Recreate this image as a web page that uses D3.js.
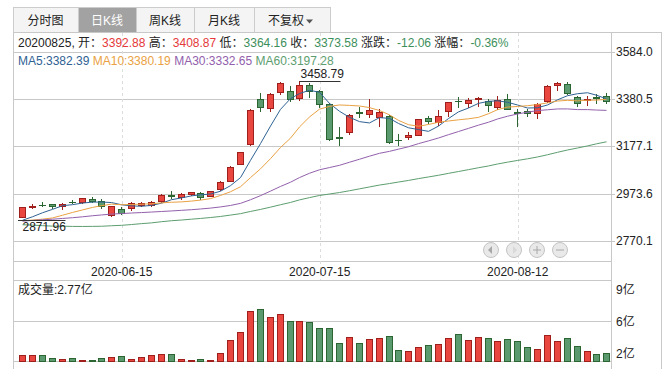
<!DOCTYPE html>
<html>
<head>
<meta charset="utf-8">
<script src="https://cdn.jsdelivr.net/npm/d3@7"></script>
<style>
body { margin: 0; background: #fff; }
svg { display: block; }
</style>
</head>
<body>
<script>
//////////////////////////////////////////////////////////////////////////////
// data (SSE index, daily K)

var dates = [
    "2020-06-01","2020-06-02","2020-06-03","2020-06-04","2020-06-05","2020-06-08","2020-06-09","2020-06-10","2020-06-11","2020-06-12",
    "2020-06-15","2020-06-16","2020-06-17","2020-06-18","2020-06-19","2020-06-22","2020-06-23","2020-06-24","2020-06-29","2020-06-30",
    "2020-07-01","2020-07-02","2020-07-03","2020-07-06","2020-07-07","2020-07-08","2020-07-09","2020-07-10","2020-07-13","2020-07-14",
    "2020-07-15","2020-07-16","2020-07-17","2020-07-20","2020-07-21","2020-07-22","2020-07-23","2020-07-24","2020-07-27","2020-07-28",
    "2020-07-29","2020-07-30","2020-07-31","2020-08-03","2020-08-04","2020-08-05","2020-08-06","2020-08-07","2020-08-10","2020-08-11",
    "2020-08-12","2020-08-13","2020-08-14","2020-08-17","2020-08-18","2020-08-19","2020-08-20","2020-08-21","2020-08-24","2020-08-25"];

var open = [
    2874.2, 2916.5, 2925.5, 2929.0, 2920.0, 2939.0, 2940.0, 2953.0, 2942.0, 2884.0,
    2906.0, 2912.0, 2925.0, 2924.0, 2942.0, 2967.5, 2958.0, 2973.0, 2977.0, 2966.0,
    2992.0, 3030.0, 3103.0, 3189.0, 3383.0, 3343.0, 3410.0, 3418.0, 3385.0, 3441.0,
    3415.0, 3359.0, 3218.0, 3240.0, 3324.0, 3316.0, 3305.0, 3308.0, 3207.0, 3220.0,
    3228.0, 3298.0, 3284.0, 3330.0, 3375.0, 3363.0, 3380.0, 3374.0, 3345.0, 3383.0,
    3325.0, 3330.0, 3320.0, 3372.0, 3444.0, 3446.0, 3389.0, 3376.0, 3390.0, 3392.88];

var high = [
    2917.0, 2928.0, 2937.0, 2931.0, 2933.0, 2948.0, 2957.0, 2960.0, 2951.0, 2920.0,
    2916.0, 2938.0, 2940.0, 2944.0, 2971.0, 2985.0, 2978.0, 2983.0, 2980.0, 2986.0,
    3027.0, 3091.0, 3154.0, 3337.0, 3406.0, 3409.0, 3456.0, 3436.0, 3458.79, 3450.0,
    3422.0, 3366.0, 3259.0, 3319.0, 3346.0, 3380.0, 3337.0, 3314.0, 3230.0, 3240.0,
    3296.0, 3310.0, 3333.0, 3368.0, 3390.0, 3385.0, 3392.0, 3380.0, 3395.0, 3401.0,
    3338.0, 3340.0, 3365.0, 3444.0, 3456.0, 3453.0, 3396.0, 3395.0, 3401.0, 3408.87];

var low = [
    2871.96, 2911.0, 2919.0, 2913.0, 2907.0, 2932.0, 2934.0, 2938.0, 2914.0, 2878.0,
    2886.0, 2903.0, 2920.0, 2919.0, 2938.0, 2955.0, 2952.0, 2967.0, 2951.0, 2963.0,
    2991.0, 3029.0, 3100.0, 3184.0, 3332.0, 3331.0, 3405.0, 3372.0, 3377.0, 3390.0,
    3345.0, 3205.0, 3185.0, 3230.0, 3306.0, 3305.0, 3266.0, 3193.0, 3184.0, 3208.0,
    3225.0, 3280.0, 3270.0, 3310.0, 3345.0, 3345.0, 3350.0, 3330.0, 3338.0, 3338.0,
    3266.0, 3310.0, 3300.0, 3370.0, 3420.0, 3405.0, 3350.0, 3355.0, 3365.0, 3364.16];

var close = [
    2915.43, 2921.40, 2923.37, 2919.25, 2930.80, 2937.77, 2956.11, 2943.75, 2920.90, 2919.74,
    2890.03, 2931.75, 2935.87, 2939.32, 2967.63, 2965.27, 2970.62, 2979.55, 2961.52, 2984.67,
    3025.98, 3090.57, 3152.81, 3332.88, 3345.34, 3403.44, 3450.59, 3383.32, 3443.29, 3414.62,
    3361.30, 3210.10, 3214.13, 3314.15, 3320.90, 3333.16, 3325.11, 3196.77, 3205.23, 3227.96,
    3294.55, 3286.82, 3310.01, 3367.97, 3371.69, 3377.56, 3386.46, 3354.04, 3379.25, 3340.29,
    3319.27, 3320.73, 3360.10, 3438.80, 3451.09, 3408.13, 3363.90, 3380.68, 3385.64, 3373.58];

// volume, in 亿
var volume = [
    2.57, 2.57, 2.57, 2.27, 2.17, 2.27, 2.10, 2.02, 2.27, 2.37,
    2.50, 2.17, 2.37, 2.57, 2.67, 2.67, 2.17, 2.07, 2.17, 2.07,
    2.77, 4.07, 4.87, 6.97, 7.17, 6.37, 6.70, 5.97, 5.97, 5.87,
    5.27, 5.27, 3.77, 4.37, 3.77, 4.17, 4.27, 4.47, 3.07, 2.97,
    3.37, 3.57, 3.67, 4.27, 4.67, 4.07, 4.37, 4.27, 3.97, 4.17,
    3.97, 3.37, 3.17, 4.57, 3.97, 4.27, 3.47, 2.97, 2.67, 2.77];

// closes before the visible window (2020-03-04 .. 2020-05-29), only used for the MA lines
var earlierCloses = [
    3011.67, 3071.68, 3034.51, 2943.29, 2996.76, 2968.52, 2923.49, 2887.43, 2789.25, 2779.64,
    2728.76, 2702.13, 2745.62, 2660.17, 2722.44, 2781.59, 2764.91, 2772.20, 2747.21, 2750.30,
    2734.52, 2780.64, 2763.99, 2820.76, 2815.37, 2825.90, 2796.63, 2783.05, 2827.28, 2811.17,
    2819.94, 2838.49, 2852.55, 2827.01, 2844.24, 2838.50, 2808.53, 2815.49, 2810.02, 2822.44,
    2860.08, 2878.14, 2871.52, 2895.34, 2894.80, 2891.56, 2898.05, 2870.34, 2868.46, 2875.42,
    2898.58, 2883.74, 2867.92, 2813.77, 2817.97, 2846.55, 2836.80, 2846.22, 2852.35];

var maPeriods = [5, 10, 30, 60];
var maColors = ["#2f6293", "#eaa244", "#9260ac", "#5d9e70"];

var priceTicks = [2770.1, 2973.6, 3177.1, 3380.5, 3584.0];
var volTicks = [9, 6, 2];
var dateTicks = ["2020-06-15", "2020-07-15", "2020-08-12"];
var tabNames = ["分时图", "日K线", "周K线", "月K线", "不复权"];
var tabEdges = [13, 78, 136, 194, 254, 330];

//////////////////////////////////////////////////////////////////////////////

var FONT = "'Liberation Sans', Arial, 'Noto Sans CJK SC', sans-serif";
var RED = "#e5393a", GREEN = "#3d8f5c", TEXT = "#222";
var left = 13, plotRight = 611, outerRight = 662;

var svg = d3.select("body").append("svg")
    .attr("width", 672)
    .attr("height", 369)
    .style("font-family", FONT)
    .style("font-size", "12px");

var x = d3.scaleBand().domain(dates).range([17.8, 611.8]).paddingInner(0.3).paddingOuter(0.15);
var y = d3.scaleLinear().domain([2770.1, 3584.0]).range([241, 52]).interpolate(d3.interpolateRound);
var yLine = y.copy().interpolate(d3.interpolateNumber);
var yv = d3.scaleLinear().domain([2, 9]).range([361, 291]).interpolate(d3.interpolateRound);

function cx(i)
{
    return Math.round(x(dates[i]) + x.bandwidth() / 2 - 3.5) + 3.5;
}

function hline(g, x1, x2, yy, color)
{
    g.append("line").attr("x1", x1).attr("x2", x2).attr("y1", yy).attr("y2", yy)
        .attr("stroke", color || "#c8c8c8");
}
function vline(g, xx, y1, y2, color)
{
    g.append("line").attr("x1", xx).attr("x2", xx).attr("y1", y1).attr("y2", y2)
        .attr("stroke", color || "#c8c8c8");
}

// tabs
var tabs = svg.append("g");
tabNames.forEach(function(name, i) {
    var x0 = tabEdges[i], x1 = tabEdges[i + 1];
    var sel = i === 1;
    tabs.append("rect")
        .attr("x", x0 + 0.5).attr("y", 7.5)
        .attr("width", x1 - x0).attr("height", 25)
        .attr("fill", sel ? "#a2a2a2" : "#f4f4f4")
        .attr("stroke", "#cccccc");
    var cxT = i === 4 ? (x0 + x1) / 2 - 6 : (x0 + x1) / 2;
    tabs.append("text")
        .attr("x", cxT).attr("y", 25)
        .attr("text-anchor", "middle")
        .attr("fill", sel ? "#fff" : "#222")
        .text(name);
    if (i === 4)
        tabs.append("path").attr("d", "M306,19.5h7l-3.5,4z").attr("fill", "#555");
});

// frame
var frame = svg.append("g");
hline(frame, left, outerRight, 32.5);
vline(frame, left + 0.5, 32, 369);
vline(frame, plotRight + 0.5, 32, 369);
vline(frame, outerRight - 0.5, 32, 369);
hline(frame, left, plotRight, 261.5);
hline(frame, left, plotRight, 280.5);
hline(frame, left, plotRight, yv(6) + 0.5);
hline(frame, left, plotRight, 361.5);

// grid
var grid = svg.append("g");
priceTicks.forEach(function(t) { hline(grid, left, plotRight, y(t) + 0.5); });
dateTicks.forEach(function(d) {
    var xx = Math.round(x(d) + x.bandwidth() / 2) + 0.5;
    grid.append("line").attr("x1", xx).attr("x2", xx).attr("y1", 33).attr("y2", 280)
        .attr("stroke", "#dddddd").attr("stroke-dasharray", "3,3");
});

// moving averages
var allCloses = earlierCloses.concat(close);
var mas = maPeriods.map(function(n) {
    return close.map(function(c, i) {
        var end = earlierCloses.length + i + 1;
        return d3.mean(allCloses.slice(end - n, end));
    });
});

// info rows
var last = close.length - 1;
var chg = close[last] - close[last - 1];
var pct = chg / close[last - 1] * 100;
var info = svg.append("text").attr("x", 18).attr("y", 47).attr("fill", TEXT);
[
    [dates[last].replace(/-/g, "") + ", 开：", TEXT], [open[last].toFixed(2), RED],
    [" 高：", TEXT], [high[last].toFixed(2), RED],
    [" 低：", TEXT], [low[last].toFixed(2), GREEN],
    [" 收：", TEXT], [close[last].toFixed(2), GREEN],
    [" 涨跌：", TEXT], [chg.toFixed(2), GREEN],
    [" 涨幅：", TEXT], [pct.toFixed(2) + "%", GREEN]
].forEach(function(p) {
    info.append("tspan").attr("fill", p[1]).text(p[0]);
});

var legend = svg.append("text").attr("x", 18).attr("y", 65);
maPeriods.forEach(function(n, k) {
    legend.append("tspan").attr("fill", maColors[k])
        .text((k ? " " : "") + "MA" + n + ":" + mas[k][last].toFixed(2));
});

// candles
var up = function(i) { return close[i] >= open[i]; };
var fillOf = function(i) { return up(i) ? "#e8463f" : "#5b9a6e"; };
var edgeOf = function(i) { return up(i) ? "#9e1f1c" : "#2b6532"; };

var candles = svg.append("g")
    .selectAll()
    .data(d3.range(dates.length))
    .enter()
    .append("g");

candles.append("line")
    .attr("x1", cx).attr("x2", cx)
    .attr("y1", function(i) { return y(high[i]); })
    .attr("y2", function(i) { return y(low[i]) + 1; })
    .attr("stroke", edgeOf);

candles.each(function(i) {
    var g = d3.select(this);
    var top = y(Math.max(open[i], close[i]));
    var bot = y(Math.min(open[i], close[i]));
    if (bot - top < 1) {
        g.append("line")
            .attr("x1", cx(i) - 3.5).attr("x2", cx(i) + 3.5)
            .attr("y1", top + 0.5).attr("y2", top + 0.5)
            .attr("stroke", edgeOf(i));
    } else {
        g.append("rect")
            .attr("x", cx(i) - 3).attr("y", top + 0.5)
            .attr("width", 6).attr("height", bot - top)
            .attr("fill", fillOf(i)).attr("stroke", edgeOf(i));
    }
});

// MA lines
var line = d3.line()
    .x(function(d, i) { return cx(i); })
    .y(function(d) { return yLine(d); });

svg.append("g")
    .selectAll()
    .data(mas)
    .enter()
    .append("path")
    .attr("d", line)
    .attr("fill", "none")
    .attr("stroke", function(d, k) { return maColors[k]; })
    .attr("stroke-width", 1);

// high / low markers
var hi = d3.maxIndex(high), lo = d3.minIndex(low);
var marks = svg.append("g").attr("fill", TEXT);
hline(marks, cx(hi), cx(hi) + 41, y(high[hi]) + 0.5, "#333");
marks.append("text").attr("x", cx(hi) + 1).attr("y", y(high[hi]) - 3).text(high[hi].toFixed(2));
hline(marks, cx(lo) - 4.5, cx(lo) + 43, y(low[lo]) + 3.5, "#333");
marks.append("text").attr("x", cx(lo)).attr("y", y(low[lo]) + 14).text(low[lo].toFixed(2));

// axes
function restyle(g)
{
    g.attr("font-family", FONT).attr("font-size", 12);
    g.select(".domain").remove();
    g.selectAll("text").attr("fill", TEXT);
    g.selectAll("line").attr("stroke", "#c8c8c8");
}

svg.append("g")
    .attr("transform", "translate(" + plotRight + ",0)")
    .call(d3.axisRight(y).tickValues(priceTicks).tickSize(4).tickPadding(1)
        .tickFormat(d3.format(".1f")))
    .call(restyle);

svg.append("g")
    .attr("transform", "translate(0,261)")
    .call(d3.axisBottom(x).tickValues(dateTicks).tickSize(0).tickPadding(6))
    .call(restyle);

var vAxis = svg.append("g")
    .attr("transform", "translate(" + plotRight + ",0)")
    .call(d3.axisRight(yv).tickValues(volTicks).tickSize(0).tickPadding(5)
        .tickFormat(function(d) { return d + "亿"; }))
    .call(restyle);
vAxis.selectAll("text").attr("y", function(d) { return d === 2 ? -7 : d === 9 ? -1 : 1; });

// volume
svg.append("text").attr("x", 18).attr("y", 294).attr("fill", TEXT)
    .text("成交量:" + volume[last].toFixed(2) + "亿");

svg.append("g")
    .selectAll()
    .data(d3.range(dates.length))
    .enter()
    .append("rect")
    .attr("x", function(i) { return cx(i) - 3; })
    .attr("y", function(i) { return Math.min(yv(volume[i]), 360) + 0.5; })
    .attr("width", 6)
    .attr("height", function(i) { return Math.max(1, 361 - Math.min(yv(volume[i]), 360)); })
    .attr("fill", fillOf)
    .attr("stroke", edgeOf);

// navigation buttons
var nav = svg.append("g");
[491, 514, 537, 560].forEach(function(bx, k) {
    nav.append("circle").attr("cx", bx).attr("cy", 250).attr("r", 7.5)
        .attr("fill", "#e9e9e9").attr("stroke", "#c4c4c4");
    var c = k === 1 ? "#d8d8d8" : "#a8a8a8";
    if (k === 0) nav.append("path").attr("d", "M" + (bx - 3) + ",250l4,-4v8z").attr("fill", c);
    if (k === 1) nav.append("path").attr("d", "M" + (bx + 3) + ",250l-4,-4v8z").attr("fill", c);
    if (k >= 2) hline(nav, bx - 4, bx + 4, 250, c);
    if (k === 2) vline(nav, bx, 246, 254, c);
});
</script>
</body>
</html>
